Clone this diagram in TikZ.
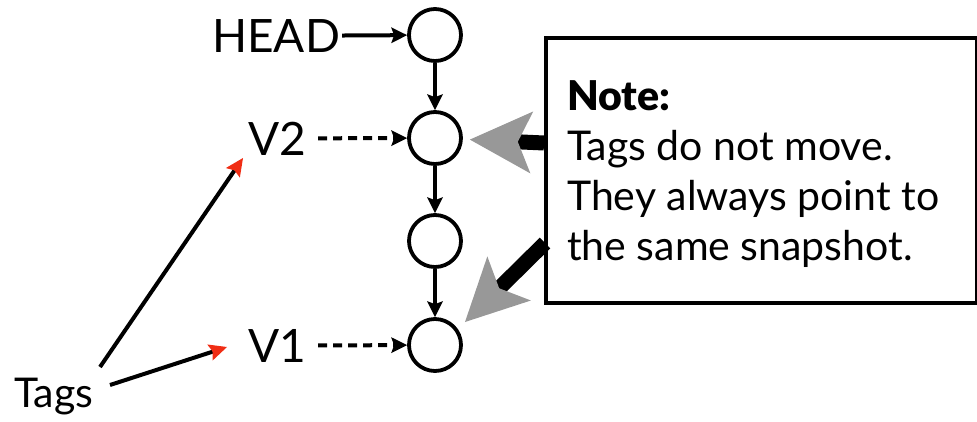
\documentclass[tikz,border=0pt]{standalone}
\usepackage{fontspec}
\setmainfont{Lato}
\IfFontExistsTF{Lato Black}{\newfontfamily\heavyfont{Lato Black}}{\newfontfamily\heavyfont{Lato}[FakeBold=2]}
\usetikzlibrary{arrows.meta}
\definecolor{tipred}{RGB}{240,45,20}
\definecolor{notegray}{RGB}{152,152,152}
\begin{document}
\begin{tikzpicture}[x=1pt,y=-1pt,
  commit/.style={circle, draw, line width=3.8pt, minimum size=52pt, inner sep=0pt},
  lbl/.style={inner sep=0pt, anchor=base west, font=\fontsize{46}{46}\selectfont},
  link/.style={line width=4pt, -{Stealth[length=16pt,width=16pt,inset=3pt,line width=0pt]}},
  ptr/.style={link, dash pattern=on 9pt off 6pt},
  tagarrow/.style={line width=4pt, -{Stealth[length=18pt,width=17pt,inset=3pt,line width=0pt,color=tipred]}},
  callout/.style={line width=15pt, -{Stealth[length=62pt,width=62pt,inset=14pt,line width=0pt,color=notegray]}},
  notebox/.style={draw, line width=3.8pt, fill=white, inner sep=0pt, anchor=north west},
]
\useasboundingbox (0,0) rectangle (977,421);

% commits
\node[commit] (c1) at (435,35) {};
\node[commit] (c2) at (435,138) {};
\node[commit] (c3) at (435,241) {};
\node[commit] (c4) at (435,345) {};
\draw[link] (c1) -- (c2);
\draw[link] (c2) -- (c3);
\draw[link] (c3) -- (c4);

% labels
\node[lbl] (head) at (212,52) {HEAD};
\node[lbl] (v2) at (248,155) {V2};
\node[lbl] (v1) at (248,362) {V1};
\node[lbl, font=\fontsize{41}{41}\selectfont] (tags) at (14,407) {Tags};

\draw[link, shorten <=2pt] (head.east) -- (c1);
\draw[ptr, shorten <=12pt] (v2.east) -- (c2);
\draw[ptr, shorten <=12pt] (v1.east) -- (c4);

% tag arrows
\coordinate (ts1) at (100,367);
\coordinate (te1) at (243,158);
\coordinate (ts2) at (110,385);
\coordinate (te2) at (227,347);
\draw[tagarrow] (ts1) -- (te1);
\draw[tagarrow] (ts2) -- (te2);

% note box
\node[notebox, minimum width=431pt, minimum height=265pt] (note) at (544,36) {};
\node[anchor=north west, align=left, inner sep=0pt, font=\fontsize{41}{50}\selectfont] (notetext) at (567,80)
  {{\heavyfont Note:}\\Tags do not move.\\They always point to\\the same snapshot.};

\coordinate (n1) at (544,143);
\coordinate (n2) at (545,243);
\coordinate (t2) at (465,322);
\draw[callout, shorten >=7pt] (n1) -- (c2);
\draw[callout] (n2) -- (t2);
\end{tikzpicture}
\end{document}
